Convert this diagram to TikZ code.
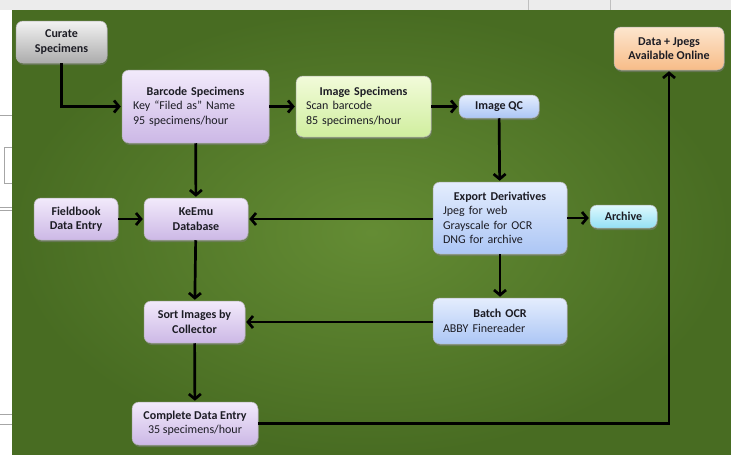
\documentclass[tikz,border=0pt]{standalone}
\usepackage{fontspec}
\setmainfont{Carlito}
\usepackage{tikz}
\definecolor{slidein}{RGB}{100, 140, 52}
\definecolor{slideout}{RGB}{72, 108, 34}
\definecolor{pagegray}{RGB}{236, 236, 236}
\definecolor{darktext}{RGB}{28, 28, 36}
\definecolor{graytop}{RGB}{242, 242, 242}
\definecolor{graybot}{RGB}{172, 172, 172}
\definecolor{lavtop}{RGB}{242, 234, 251}
\definecolor{lavbot}{RGB}{204, 184, 230}
\definecolor{limetop}{RGB}{242, 251, 218}
\definecolor{limebot}{RGB}{208, 238, 158}
\definecolor{bluetop}{RGB}{228, 237, 253}
\definecolor{bluebot}{RGB}{172, 198, 245}
\definecolor{cyantop}{RGB}{222, 248, 253}
\definecolor{cyanbot}{RGB}{148, 224, 245}
\definecolor{orangetop}{RGB}{253, 230, 206}
\definecolor{orangebot}{RGB}{247, 188, 136}
\usetikzlibrary{arrows.meta, positioning, shadows}

\newcommand{\stagetitle}[1]{\makebox[\linewidth]{\bfseries #1}}

\tikzset{
    stage/.style={rounded corners=7pt, draw=white!70!black, line width=0.5pt,
          drop shadow={opacity=0.5, shadow xshift=0.8pt, shadow yshift=-2pt},
          text=darktext, font=\fontsize{12}{14.4}\selectfont, align=center,
          inner sep=0pt},
    flow/.style={line width=2.7pt, -{Straight Barb[length=5pt,width=12pt]},
          shorten >=1pt}
}

\begin{document}
\begin{tikzpicture}[x=1pt, y=-1pt]
    \useasboundingbox (0,0) rectangle (731,455);
    \fill[pagegray] (0,0) rectangle (731,455);
    \fill[white] (0,10) rectangle (12,455);
    \draw[gray!70, line width=0.6pt] (0,115) -- (12,115);
    \draw[gray!70, line width=0.6pt] (12,147) -- (4,147) -- (4,183) -- (12,183);
    \draw[gray!70, line width=0.6pt] (0,207) -- (12,207) (0,210) -- (12,210);
    \draw[gray!70, line width=0.6pt] (0,414) -- (12,414) (0,424) -- (12,424);
    \draw[gray!50, line width=0.6pt] (528,10) -- (528,0) (610,10) -- (610,0);
    \shade[inner color=slidein, outer color=slideout] (12,10) rectangle (731,455);

    \node[stage, top color=graytop, bottom color=graybot,
          minimum width=91pt, minimum height=42pt] (curate) at (61.5,42)
          {\bfseries Curate\\\bfseries Specimens};
    \node[stage, top color=lavtop, bottom color=lavbot,
          text width=125pt, inner xsep=11pt, minimum height=73pt, align=left]
          (barcode) at (195.5,106.5)
          {\stagetitle{Barcode Specimens}\\Key “Filed as” Name\\95 specimens/hour};
    \node[stage, top color=limetop, bottom color=limebot,
          text width=115pt, inner xsep=10pt, minimum height=61pt, align=left]
          (imgspec) at (363.5,106.5)
          {\stagetitle{Image Specimens}\\Scan barcode\\85 specimens/hour};
    \node[stage, top color=bluetop, bottom color=bluebot,
          minimum width=80pt, minimum height=23pt] (imgqc) at (499,106.5)
          {\bfseries Image QC};
    \node[stage, top color=orangetop, bottom color=orangebot,
          minimum width=110pt, minimum height=43pt] (online) at (669,48.5)
          {\bfseries Data + Jpegs\\\bfseries Available Online};
    \node[stage, top color=bluetop, bottom color=bluebot,
          text width=114pt, inner xsep=10pt, minimum height=72pt, align=left]
          (export) at (500,218)
          {\stagetitle{Export Derivatives}\\Jpeg for web\\Grayscale for OCR\\DNG for archive};
    \node[stage, top color=cyantop, bottom color=cyanbot,
          minimum width=67pt, minimum height=23pt] (archive) at (623.5,216.5)
          {\bfseries Archive};
    \node[stage, top color=lavtop, bottom color=lavbot,
          minimum width=84pt, minimum height=42pt] (fieldbook) at (76,219)
          {\bfseries Fieldbook\\\bfseries Data Entry};
    \node[stage, top color=lavtop, bottom color=lavbot,
          minimum width=104pt, minimum height=42pt] (keemu) at (196,219)
          {\bfseries KeEmu\\\bfseries Database};
    \node[stage, top color=bluetop, bottom color=bluebot,
          text width=114pt, inner xsep=10pt, minimum height=46pt, align=left]
          (batchocr) at (500,321)
          {\stagetitle{Batch OCR}\\ABBY Finereader};
    \node[stage, top color=lavtop, bottom color=lavbot,
          minimum width=101pt, minimum height=42pt] (sort) at (194.5,322)
          {\bfseries Sort Images by\\\bfseries Collector};
    \node[stage, top color=lavtop, bottom color=lavbot,
          minimum width=126pt, minimum height=43pt] (complete) at (195,423.5)
          {\bfseries Complete Data Entry\\35 specimens/hour};

    \draw[flow] (curate) |- (barcode);
    \draw[flow] (barcode) -- (imgspec);
    \draw[flow] (imgspec) -- (imgqc);
    \draw[flow] (imgqc) -- (export);
    \draw[flow] (barcode) -- (keemu);
    \draw[flow] (fieldbook) -- (keemu);
    \draw[flow] (export.west |- keemu) -- (keemu);
    \draw[flow] (export) -- (archive.west |- export);
    \draw[flow] (export) -- (batchocr);
    \draw[flow] (batchocr.west |- sort) -- (sort);
    \draw[flow] (keemu) -- (sort);
    \draw[flow] (sort) -- (complete);
    \draw[flow] (complete) -| (online);
\end{tikzpicture}
\end{document}
